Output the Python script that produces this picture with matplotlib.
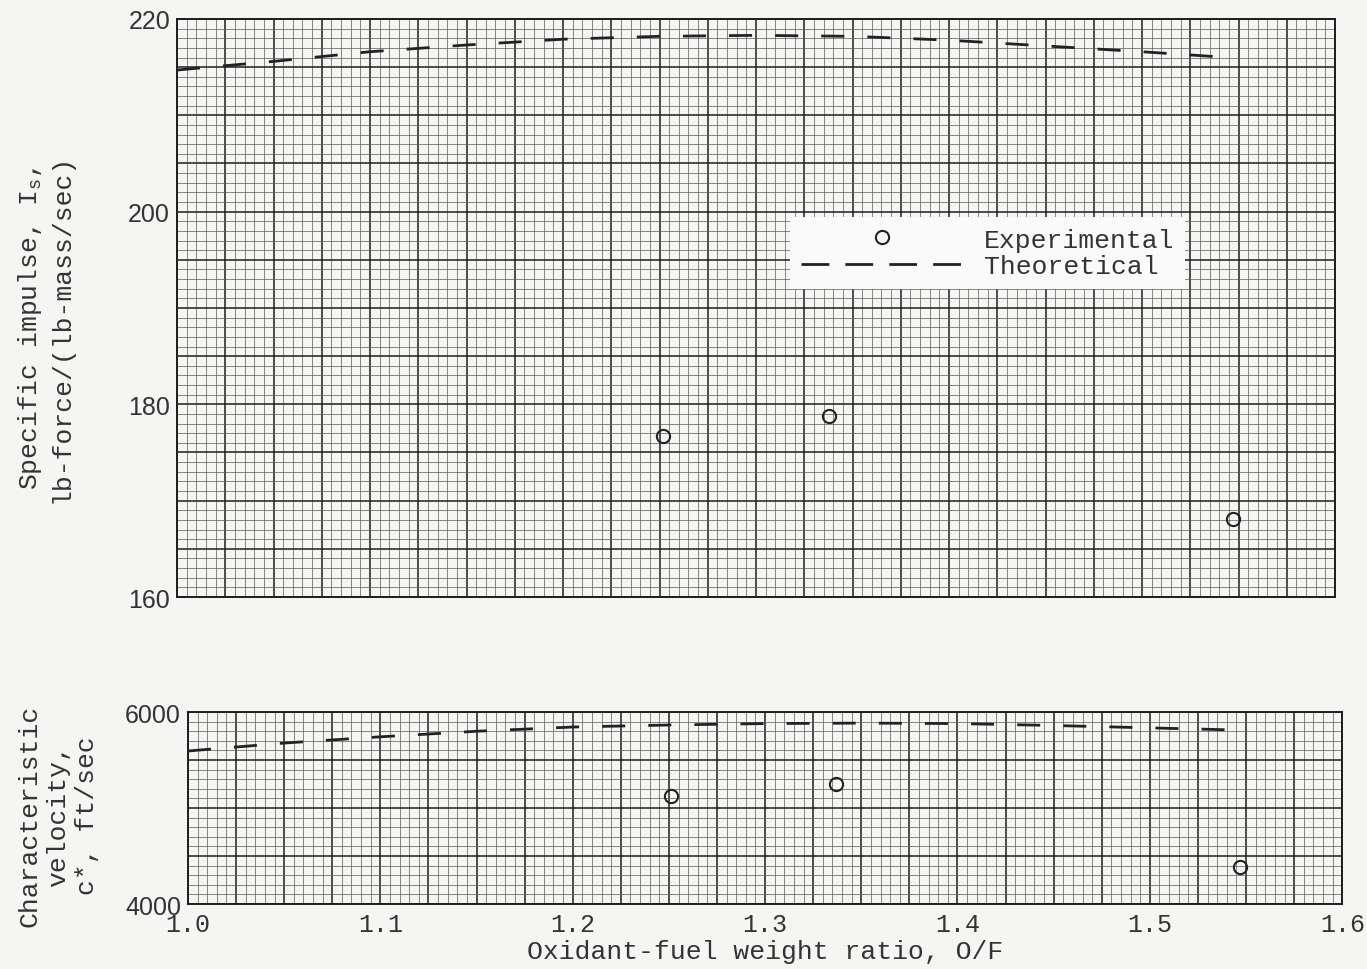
import matplotlib
matplotlib.use("Agg")
import matplotlib.pyplot as plt
from matplotlib.ticker import MultipleLocator, FuncFormatter
from matplotlib.lines import Line2D

plt.rcParams['font.family'] = ['Liberation Mono', 'DejaVu Sans']
plt.rcParams['mathtext.fontset'] = 'custom'
plt.rcParams['mathtext.rm'] = 'Liberation Mono'
plt.rcParams['mathtext.it'] = 'Liberation Mono'

# Theoretical curves
theo_of = [1.00, 1.05, 1.10, 1.15, 1.20, 1.25, 1.30, 1.35, 1.40, 1.45, 1.50, 1.545]
theo_isp = [214.7, 215.6, 216.6, 217.3, 217.9, 218.2, 218.3, 218.2, 217.8, 217.2, 216.6, 216.0]
theo_of_c = [1.00, 1.05, 1.10, 1.15, 1.20, 1.25, 1.30, 1.35, 1.40, 1.45, 1.50, 1.547]
theo_cstar = [5594, 5677, 5742, 5800, 5844, 5865, 5880, 5885, 5880, 5860, 5835, 5812]

# Experimental points
exp_of = [1.252, 1.338, 1.547]
exp_isp = [176.7, 178.8, 168.1]
exp_of_c = [1.251, 1.337, 1.547]
exp_cstar = [5125, 5250, 4385]

paper = '#f5f5f3'
ink = '#1e1e1e'
txt = '#333333'
FS = 19

fig = plt.figure(figsize=(13.67, 9.70), dpi=100, facecolor=paper)
ax1 = fig.add_axes([0.1295, 0.3835, 0.8471, 0.5959])
ax2 = fig.add_axes([0.1375, 0.0670, 0.8444, 0.1979])


def graph_paper(ax, ymaj, ymin, ylabel_every):
    ax.set_facecolor(paper)
    ax.set_xlim(1.0, 1.6)
    ax.xaxis.set_major_locator(MultipleLocator(0.025))
    ax.xaxis.set_minor_locator(MultipleLocator(0.005))
    ax.yaxis.set_major_locator(MultipleLocator(ymaj))
    ax.yaxis.set_minor_locator(MultipleLocator(ymin))
    ax.grid(which='major', color=ink, linewidth=1.1)
    ax.grid(which='minor', color='#5a5a5a', linewidth=0.5)
    ax.set_axisbelow(True)
    ax.tick_params(which='both', length=0)
    ax.yaxis.set_major_formatter(FuncFormatter(
        lambda v, p: f"{v:.0f}" if abs(v / ylabel_every - round(v / ylabel_every)) < 1e-6 else ""))
    ax.tick_params(axis='y', labelsize=18, pad=5, labelcolor=txt)
    for s in ax.spines.values():
        s.set_color(ink)
        s.set_linewidth(1.4)


def x_fmt(v, p):
    if abs(v * 10 - round(v * 10)) < 1e-6:
        return f"{v:.1f}"
    return ""


dash = dict(linestyle=(0, (8.3, 8.3)), linewidth=2.0, color='#222222')
mk = dict(linestyle='none', marker='o', markersize=9.5, markerfacecolor='none',
          markeredgecolor='#222222', markeredgewidth=1.5)

# top panel
graph_paper(ax1, 5, 1, 20)
ax1.set_ylim(160, 220)
ax1.xaxis.set_major_formatter(FuncFormatter(lambda v, p: ""))
ax1.plot(theo_of, theo_isp, **dash)
ax1.plot(exp_of, exp_isp, **mk)
for t in ax1.get_yticklabels():
    t.set_fontfamily('Liberation Sans')

fig.text(45 / 1367, 1 - 328 / 970,
         "Specific impulse, I$_\\mathregular{s}$,\nlb-force/(lb-mass/sec)",
         rotation=90, ha='center', va='center', multialignment='center',
         fontsize=FS, color=txt, linespacing=1.3)

handles = [Line2D([], [], **mk),
           Line2D([], [], linestyle=(0, (10, 5.8)), linewidth=2.0, color='#222222')]
leg = ax1.legend(handles, ['Experimental', 'Theoretical'],
                 loc='upper left', bbox_to_anchor=(790 / 1367, 1 - 218 / 970),
                 bbox_transform=fig.transFigure, borderaxespad=0, fontsize=FS,
                 handlelength=6.2, handletextpad=0.75, borderpad=0.4,
                 labelspacing=0.1, frameon=True, fancybox=False, framealpha=1,
                 facecolor='#fafafa', edgecolor='none')
for t in leg.get_texts():
    t.set_color(txt)

# bottom panel
graph_paper(ax2, 500, 100, 2000)
ax2.set_ylim(4000, 6000)
ax2.xaxis.set_major_formatter(FuncFormatter(x_fmt))
ax2.tick_params(axis='x', labelsize=18, pad=6, labelcolor=txt)
ax2.plot(theo_of_c, theo_cstar, **dash)
ax2.plot(exp_of_c, exp_cstar, **mk)
for t in ax2.get_yticklabels():
    t.set_fontfamily('Liberation Sans')
ax2.set_xlabel("Oxidant-fuel weight ratio, O/F", fontsize=FS, color=txt,
               labelpad=2)

fig.text(58 / 1367, 1 - 816 / 970, "Characteristic\nvelocity,\nc*, ft/sec",
         rotation=90, ha='center', va='center', multialignment='center',
         fontsize=FS, color=txt, linespacing=1.25)

fig.savefig('out.png', dpi=100, facecolor=paper)
